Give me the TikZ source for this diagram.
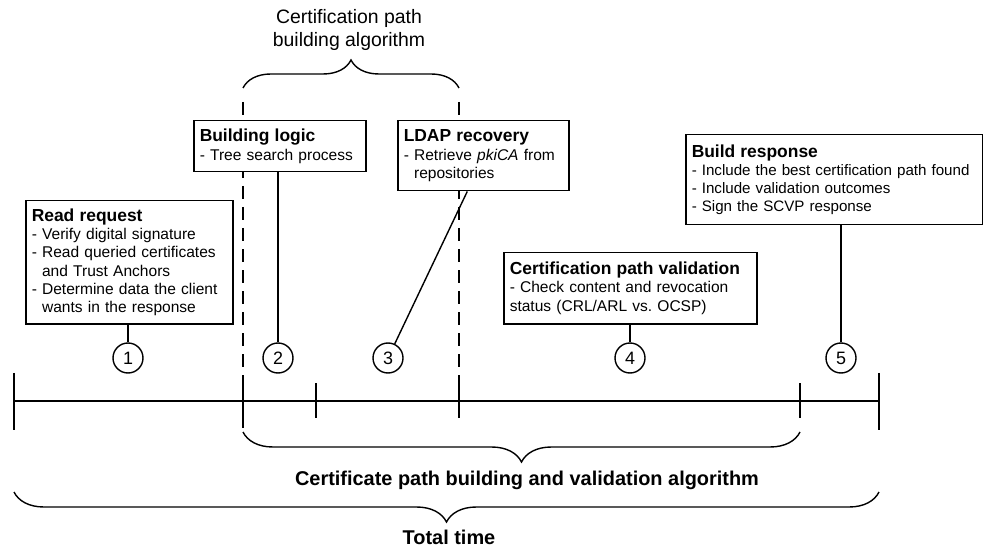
\documentclass[tikz,border=0pt]{standalone}
\usepackage{fontspec}
\setmainfont{Liberation Sans}
\usetikzlibrary{calc}
\usetikzlibrary{decorations.pathreplacing}

\newcommand{\steptitle}[1]{{\fontsize{17.5}{18.3}\selectfont\bfseries #1}}

\begin{document}
\begin{tikzpicture}[x=1bp,y=-1bp,
  taskbox/.style={draw, line width=1.5bp, fill=white, align=left, anchor=north west,
    inner xsep=6bp, inner ysep=0bp, font=\fontsize{15.6}{18.3}\selectfont},
  stepnum/.style={draw, circle, line width=1.4bp, minimum size=30bp, inner sep=0pt,
    font=\fontsize{18}{18}\selectfont},
  phaseline/.style={line width=1.4bp, dash pattern=on 13bp off 8bp},
  bracket/.style={line width=1.4bp, decorate, decoration={brace, amplitude=#1}},
  bigtext/.style={font=\bfseries\fontsize{20}{20}\selectfont}]
\useasboundingbox (0,0) rectangle (983,547);
% timeline
\coordinate (t0) at (14,401);
\coordinate (t1) at (243,401);
\coordinate (t2) at (316,401);
\coordinate (t3) at (459,401);
\coordinate (t4) at (800,401);
\coordinate (t5) at (879,401);
\draw[line width=1.4bp] (t0) -- (t5);
\foreach \p in {t0,t5} \draw[line width=1.4bp] ([yshift=28bp]\p) -- ([yshift=-29bp]\p);
\foreach \p in {t1,t2,t3,t4} \draw[line width=1.4bp] ([yshift=18bp]\p) -- ([yshift=-17bp]\p);
% path building phase
\draw[phaseline] (243,102) -- (243,428);
\draw[phaseline] (459,102) -- (459,418);
\draw[bracket=28bp] (243,88) -- (459,88);
\node[align=center, font=\fontsize{19.5}{24}\selectfont] (pb) at (349,30) {Certification path\\building algorithm};
\draw[bracket=30bp] (800,432) -- (243,432);
\node[bigtext] (pv) at (527,480) {Certificate path building and validation algorithm};
\draw[bracket=30bp] (879,492) -- (14,492);
\node[bigtext] (tt) at (449,537) {Total time};
% steps
\node[stepnum] (c1) at (128,358) {1};
\node[stepnum] (c2) at (278,358) {2};
\node[stepnum] (c3) at (388,358) {3};
\node[stepnum] (c4) at (630,358) {4};
\node[stepnum] (c5) at (841,358) {5};
\node[taskbox, text width=195bp, minimum height=123bp] (b1) at (25,200)
  {\steptitle{Read request}\\- Verify digital signature\\- Read queried certificates\\\phantom{- }and Trust Anchors\\- Determine data the client\\\phantom{- }wants in the response};
\node[taskbox, text width=160bp, minimum height=51bp] (b2) at (193,120)
  {\steptitle{Building logic}\\- Tree search process};
\node[taskbox, text width=159bp, minimum height=70bp] (b3) at (397,120)
  {\steptitle{LDAP recovery}\\- Retrieve \textit{pkiCA} from\\\phantom{- }repositories};
\node[taskbox, text width=241bp, minimum height=71bp] (b4) at (503,252)
  {\steptitle{Certification path validation}\\- Check content and revocation\\status (CRL/ARL vs.\ OCSP)};
\node[taskbox, text width=285bp, minimum height=90bp, font=\fontsize{15.2}{18.3}\selectfont] (b5) at (685,134)
  {\steptitle{Build response}\\- Include the best certification path found\\- Include validation outcomes\\- Sign the SCVP response};
\draw[line width=1.4bp] (b1.south -| c1) -- (c1);
\draw[line width=1.4bp] (b2.south -| c2) -- (c2);
\draw[line width=1.4bp] ([xshift=-16bp]b3.south) -- (c3);
\draw[line width=1.4bp] (b4.south -| c4) -- (c4);
\draw[line width=1.4bp] (b5.south -| c5) -- (c5);
\end{tikzpicture}
\end{document}
